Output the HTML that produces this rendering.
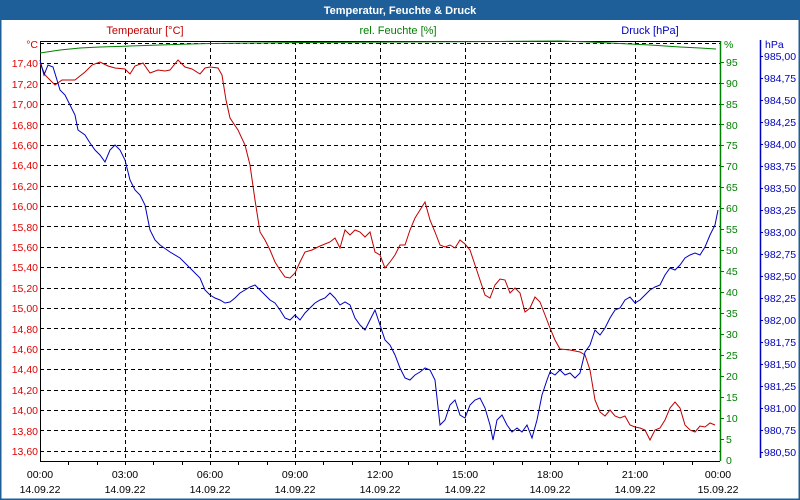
<!DOCTYPE html><html><head><style>body{margin:0;background:#fff}svg{display:block;font-family:"Liberation Sans",sans-serif;font-size:11px}</style></head><body>
<svg width="800" height="500" xmlns="http://www.w3.org/2000/svg">
<rect x="0" y="0" width="800" height="500" fill="#fff"/>
<rect x="0.5" y="0.5" width="799" height="499" fill="none" stroke="#1f5f99" stroke-width="2"/>
<rect x="0" y="0" width="800" height="20" fill="#1f5f99"/>
<text x="400" y="14" fill="#fff" font-weight="bold" text-anchor="middle">Temperatur, Feuchte &amp; Druck</text>
<text x="145" y="34" fill="#c00000" text-anchor="middle">Temperatur [°C]</text>
<text x="398" y="34" fill="#008000" text-anchor="middle">rel. Feuchte [%]</text>
<text x="650" y="34" fill="#0000c0" text-anchor="middle">Druck [hPa]</text>
<g stroke="#000" stroke-dasharray="4,3" stroke-width="1">
<line x1="40" y1="43.5" x2="720" y2="43.5"/>
<g id="h"></g>
</g>
<g stroke="#000" stroke-dasharray="4,3">
<line x1="40" x2="720" y1="63.5" y2="63.5"/><line x1="40" x2="720" y1="83.5" y2="83.5"/><line x1="40" x2="720" y1="104.5" y2="104.5"/><line x1="40" x2="720" y1="124.5" y2="124.5"/><line x1="40" x2="720" y1="145.5" y2="145.5"/><line x1="40" x2="720" y1="165.5" y2="165.5"/><line x1="40" x2="720" y1="186.5" y2="186.5"/><line x1="40" x2="720" y1="206.5" y2="206.5"/><line x1="40" x2="720" y1="226.5" y2="226.5"/><line x1="40" x2="720" y1="247.5" y2="247.5"/><line x1="40" x2="720" y1="267.5" y2="267.5"/><line x1="40" x2="720" y1="288.5" y2="288.5"/><line x1="40" x2="720" y1="308.5" y2="308.5"/><line x1="40" x2="720" y1="328.5" y2="328.5"/><line x1="40" x2="720" y1="349.5" y2="349.5"/><line x1="40" x2="720" y1="369.5" y2="369.5"/><line x1="40" x2="720" y1="390.5" y2="390.5"/><line x1="40" x2="720" y1="410.5" y2="410.5"/><line x1="40" x2="720" y1="430.5" y2="430.5"/><line x1="40" x2="720" y1="451.5" y2="451.5"/>
<line x1="125.5" x2="125.5" y1="41" y2="461"/><line x1="210.5" x2="210.5" y1="41" y2="461"/><line x1="295.5" x2="295.5" y1="41" y2="461"/><line x1="380.5" x2="380.5" y1="41" y2="461"/><line x1="465.5" x2="465.5" y1="41" y2="461"/><line x1="550.5" x2="550.5" y1="41" y2="461"/><line x1="635.5" x2="635.5" y1="41" y2="461"/>
</g>
<line x1="40" y1="41.5" x2="720" y2="41.5" stroke="#000"/>
<line x1="40.5" y1="41" x2="40.5" y2="462" stroke="#000"/>
<line x1="40" y1="461.5" x2="720" y2="461.5" stroke="#000"/>
<g stroke="#000"><line x1="68.5" x2="68.5" y1="461" y2="465"/><line x1="97.5" x2="97.5" y1="461" y2="465"/><line x1="125.5" x2="125.5" y1="461" y2="465"/><line x1="153.5" x2="153.5" y1="461" y2="465"/><line x1="182.5" x2="182.5" y1="461" y2="465"/><line x1="210.5" x2="210.5" y1="461" y2="465"/><line x1="238.5" x2="238.5" y1="461" y2="465"/><line x1="267.5" x2="267.5" y1="461" y2="465"/><line x1="295.5" x2="295.5" y1="461" y2="465"/><line x1="323.5" x2="323.5" y1="461" y2="465"/><line x1="352.5" x2="352.5" y1="461" y2="465"/><line x1="380.5" x2="380.5" y1="461" y2="465"/><line x1="408.5" x2="408.5" y1="461" y2="465"/><line x1="437.5" x2="437.5" y1="461" y2="465"/><line x1="465.5" x2="465.5" y1="461" y2="465"/><line x1="493.5" x2="493.5" y1="461" y2="465"/><line x1="522.5" x2="522.5" y1="461" y2="465"/><line x1="550.5" x2="550.5" y1="461" y2="465"/><line x1="578.5" x2="578.5" y1="461" y2="465"/><line x1="607.5" x2="607.5" y1="461" y2="465"/><line x1="635.5" x2="635.5" y1="461" y2="465"/><line x1="663.5" x2="663.5" y1="461" y2="465"/><line x1="692.5" x2="692.5" y1="461" y2="465"/></g>
<g fill="#e00000" text-anchor="end" font-size="10.5">
<text x="38" y="48">°C</text>
<text x="38" y="67">17,40</text><text x="38" y="88">17,20</text><text x="38" y="108">17,00</text><text x="38" y="129">16,80</text><text x="38" y="149">16,60</text><text x="38" y="169">16,40</text><text x="38" y="190">16,20</text><text x="38" y="210">16,00</text><text x="38" y="231">15,80</text><text x="38" y="251">15,60</text><text x="38" y="271">15,40</text><text x="38" y="292">15,20</text><text x="38" y="312">15,00</text><text x="38" y="333">14,80</text><text x="38" y="353">14,60</text><text x="38" y="373">14,40</text><text x="38" y="394">14,20</text><text x="38" y="414">14,00</text><text x="38" y="435">13,80</text><text x="38" y="455">13,60</text>
</g>
<line x1="720.5" y1="41" x2="720.5" y2="461" stroke="#008000" stroke-width="1.5"/>
<g stroke="#008000"><line x1="720" x2="724" y1="439.5" y2="439.5"/><line x1="720" x2="724" y1="418.5" y2="418.5"/><line x1="720" x2="724" y1="397.5" y2="397.5"/><line x1="720" x2="724" y1="376.5" y2="376.5"/><line x1="720" x2="724" y1="355.5" y2="355.5"/><line x1="720" x2="724" y1="334.5" y2="334.5"/><line x1="720" x2="724" y1="313.5" y2="313.5"/><line x1="720" x2="724" y1="292.5" y2="292.5"/><line x1="720" x2="724" y1="271.5" y2="271.5"/><line x1="720" x2="724" y1="250.5" y2="250.5"/><line x1="720" x2="724" y1="229.5" y2="229.5"/><line x1="720" x2="724" y1="208.5" y2="208.5"/><line x1="720" x2="724" y1="187.5" y2="187.5"/><line x1="720" x2="724" y1="166.5" y2="166.5"/><line x1="720" x2="724" y1="145.5" y2="145.5"/><line x1="720" x2="724" y1="124.5" y2="124.5"/><line x1="720" x2="724" y1="104.5" y2="104.5"/><line x1="720" x2="724" y1="83.5" y2="83.5"/><line x1="720" x2="724" y1="62.5" y2="62.5"/></g>
<g fill="#008000" font-size="10.5">
<text x="724" y="48">%</text><text x="726" y="66">95</text><text x="726" y="87">90</text><text x="726" y="108">85</text><text x="726" y="129">80</text><text x="726" y="149">75</text><text x="726" y="170">70</text><text x="726" y="191">65</text><text x="726" y="212">60</text><text x="726" y="233">55</text><text x="726" y="254">50</text><text x="726" y="275">45</text><text x="726" y="296">40</text><text x="726" y="317">35</text><text x="726" y="338">30</text><text x="726" y="359">25</text><text x="726" y="380">20</text><text x="726" y="401">15</text><text x="726" y="422">10</text><text x="726" y="443">5</text><text x="726" y="464">0</text>
</g>
<line x1="760.5" y1="40" x2="760.5" y2="458" stroke="#0000c0" stroke-width="1.5"/>
<g stroke="#0000c0"><line x1="760" x2="763" y1="56.5" y2="56.5"/><line x1="760" x2="763" y1="78.5" y2="78.5"/><line x1="760" x2="763" y1="100.5" y2="100.5"/><line x1="760" x2="763" y1="122.5" y2="122.5"/><line x1="760" x2="763" y1="144.5" y2="144.5"/><line x1="760" x2="763" y1="166.5" y2="166.5"/><line x1="760" x2="763" y1="188.5" y2="188.5"/><line x1="760" x2="763" y1="210.5" y2="210.5"/><line x1="760" x2="763" y1="232.5" y2="232.5"/><line x1="760" x2="763" y1="254.5" y2="254.5"/><line x1="760" x2="763" y1="276.5" y2="276.5"/><line x1="760" x2="763" y1="298.5" y2="298.5"/><line x1="760" x2="763" y1="320.5" y2="320.5"/><line x1="760" x2="763" y1="342.5" y2="342.5"/><line x1="760" x2="763" y1="364.5" y2="364.5"/><line x1="760" x2="763" y1="386.5" y2="386.5"/><line x1="760" x2="763" y1="408.5" y2="408.5"/><line x1="760" x2="763" y1="430.5" y2="430.5"/><line x1="760" x2="763" y1="452.5" y2="452.5"/></g>
<g fill="#0000c0" font-size="10.5">
<text x="765" y="48">hPa</text><text x="764" y="60">985,00</text><text x="764" y="82">984,75</text><text x="764" y="104">984,50</text><text x="764" y="126">984,25</text><text x="764" y="148">984,00</text><text x="764" y="170">983,75</text><text x="764" y="192">983,50</text><text x="764" y="214">983,25</text><text x="764" y="236">983,00</text><text x="764" y="258">982,75</text><text x="764" y="280">982,50</text><text x="764" y="302">982,25</text><text x="764" y="324">982,00</text><text x="764" y="346">981,75</text><text x="764" y="368">981,50</text><text x="764" y="390">981,25</text><text x="764" y="412">981,00</text><text x="764" y="434">980,75</text><text x="764" y="456">980,50</text>
</g>
<g fill="#000" text-anchor="middle" font-size="10.5">
<text x="40" y="478">00:00</text><text x="40" y="493">14.09.22</text>
<text x="125" y="478">03:00</text><text x="125" y="493">14.09.22</text>
<text x="210" y="478">06:00</text><text x="210" y="493">14.09.22</text>
<text x="295" y="478">09:00</text><text x="295" y="493">14.09.22</text>
<text x="380" y="478">12:00</text><text x="380" y="493">14.09.22</text>
<text x="465" y="478">15:00</text><text x="465" y="493">14.09.22</text>
<text x="550" y="478">18:00</text><text x="550" y="493">14.09.22</text>
<text x="635" y="478">21:00</text><text x="635" y="493">14.09.22</text>
<text x="718" y="478">00:00</text><text x="718" y="493">15.09.22</text>
</g>
<polyline fill="none" stroke="#008000" stroke-width="1" points="40,53 60,50 80,48 100,47 130,46 160,45 190,44 210,43.5 260,43 300,42.5 400,42 500,41.5 560,41 590,42 610,43 630,44 650,45 680,47 700,48 716,49"/>
<polyline fill="none" stroke="#c00000" stroke-width="1" points="40,63 45,75 55,85 62,80 75,80 85,72 92,65 100,62 108,66 115,68 125,69 130,74 135,66 143,63 150,73 158,70 165,71 170,70 178,60 185,67 192,69 200,74 205,68 210,67 218,68 222,75 226,100 230,118 238,130 245,145 250,165 255,200 260,232 265,240 270,250 275,262 280,270 285,277 290,278 295,273 300,262 305,252 312,250 320,246 330,242 335,238 340,248 345,230 350,235 355,230 360,232 365,237 370,232 375,252 380,255 385,268 390,262 395,255 400,245 405,245 410,230 415,218 420,210 425,202 430,220 435,232 440,245 445,247 450,245 455,248 460,240 465,244 470,250 475,265 480,280 485,295 490,298 495,285 500,279 505,280 510,293 515,288 520,293 525,312 530,308 535,297 540,302 545,315 550,328 555,340 560,349 570,350 580,352 585,355 590,370 595,400 600,412 605,416 610,410 615,416 620,418 625,416 630,425 635,427 640,428 645,430 650,440 655,430 660,428 665,420 670,408 675,402 680,408 685,425 690,430 695,432 700,426 705,427 710,423 715,425"/>
<polyline fill="none" stroke="#0000c0" stroke-width="1" points="40,60 44,75 48,65 53,67 57,80 60,90 65,95 70,105 75,115 78,130 85,135 90,143 95,150 100,155 105,162 110,150 115,145 120,150 125,160 130,180 135,190 140,195 145,205 150,230 155,240 160,245 170,252 180,258 190,268 200,278 205,290 210,295 215,298 220,300 225,303 230,302 235,298 240,293 245,290 250,287 255,285 260,290 265,295 270,300 275,303 280,310 285,318 290,320 295,315 300,320 305,313 310,308 315,303 320,300 325,298 330,293 335,298 340,305 345,302 350,305 355,318 360,325 365,330 370,320 375,310 380,325 385,340 390,345 395,355 400,368 405,378 410,380 415,375 420,372 425,368 430,370 435,380 440,425 445,420 450,405 455,400 460,415 465,418 470,405 475,400 480,398 485,408 490,425 493,440 497,420 502,415 507,425 512,432 517,428 522,432 527,425 532,438 537,420 542,395 547,380 550,372 555,375 560,370 565,375 570,373 575,378 580,373 585,352 590,345 595,330 600,335 605,328 610,318 615,310 620,308 625,300 630,297 635,303 640,300 645,295 650,290 655,287 660,285 665,275 670,268 675,270 680,265 685,258 690,255 695,253 700,255 705,247 710,235 715,225 718,210"/>
</svg>
</body></html>
